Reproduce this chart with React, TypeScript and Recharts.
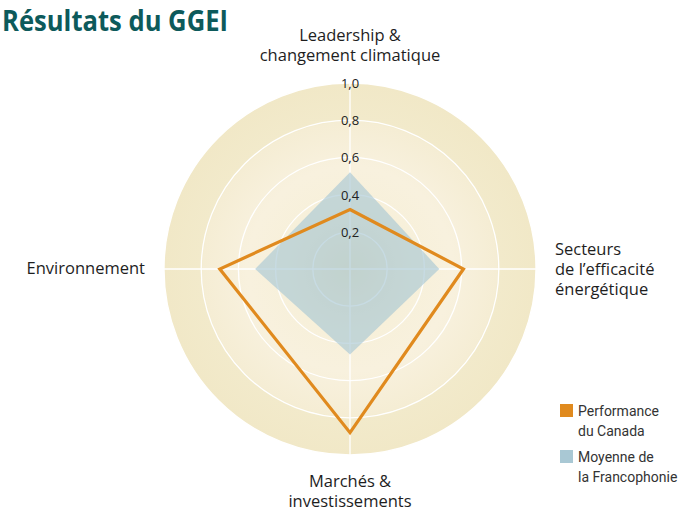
import React from 'react';
import { RadarChart, Radar, PolarGrid, PolarAngleAxis, PolarRadiusAxis, Legend } from 'recharts';

const categories = [
  'Leadership & changement climatique',
  'Secteurs de l’efficacité énergétique',
  'Marchés & investissements',
  'Environnement',
];
const canadaValues = [0.32, 0.61, 0.88, 0.7];
const francophonieValues = [0.52, 0.48, 0.46, 0.51];
const radiusTickValues = [0, 0.2, 0.4, 0.6, 0.8, 1.0];
const seriesNames = ['Performance du Canada', 'Moyenne de la Francophonie'];
const legendLines = [
  ['Performance', 'du Canada'],
  ['Moyenne de', 'la Francophonie'],
];
const categoryLines = [
  ['Leadership &', 'changement climatique'],
  ['Secteurs', 'de l’efficacité', 'énergétique'],
  ['Marchés &', 'investissements'],
  ['Environnement'],
];

const data = categories.map((c, i) => ({
  category: c,
  canada: canadaValues[i],
  francophonie: francophonieValues[i],
}));

const W = 700;
const H = 516;
const CX = 350;
const CY = 269;
const R = 186;
const ORANGE = '#e08a1e';
const BLUE = '#a9c8d4';
const LABEL_FONT = '"Open Sans", sans-serif';
const FS = 16.5;

// align: text alignment; dx: horizontal offset from tick point; base: first baseline offset; lh: line height
const tickLayout = [
  { align: 'center', dx: 0, base: -34, lh: 20 },
  { align: 'left', dx: 11, base: -14, lh: 20 },
  { align: 'center', dx: 0, base: 24, lh: 20 },
  { align: 'right', dx: -11, base: 5, lh: 20 },
];

const AngleTick = (props: any) => {
  const { x, y, index } = props;
  const lay = tickLayout[index] || tickLayout[0];
  const lines = categoryLines[index] || [String(props.payload?.value)];
  const boxW = 240;
  const top = y + lay.base - (lay.lh - 1.362 * FS) / 2 - 1.069 * FS;
  const ax = x + lay.dx;
  const left = lay.align === 'center' ? ax - boxW / 2 : lay.align === 'left' ? ax : ax - boxW;
  const boxH = lay.lh * lines.length + 4;
  return (
    <foreignObject x={left} y={top} width={boxW} height={boxH} style={{ overflow: 'visible' }}>
      <div
        style={{
          fontFamily: LABEL_FONT,
          fontSize: FS,
          lineHeight: `${lay.lh}px`,
          color: '#1e1e1e',
          textAlign: lay.align as any,
          whiteSpace: 'nowrap',
          margin: 0,
          padding: 0,
        }}
      >
        {lines.map((l, i) => (
          <React.Fragment key={i}>
            {i > 0 && <br />}
            {l}
          </React.Fragment>
        ))}
      </div>
    </foreignObject>
  );
};

const RadiusTick = (props: any) => {
  const { x, y, payload } = props;
  if (!payload || payload.value === 0) return <g />;
  return (
    <text
      x={x}
      y={y}
      textAnchor="middle"
      dominantBaseline="central"
      fontFamily={LABEL_FONT}
      fontSize={13}
      fill="#222"
    >
      {Number(payload.value).toFixed(1).replace('.', ',')}
    </text>
  );
};

const LegendContent = () => (
  <div style={{ fontFamily: 'Roboto, sans-serif', fontSize: 14, color: '#333' }}>
    {seriesNames.map((n, i) => (
      <div key={n} style={{ display: 'flex', alignItems: 'flex-start', marginBottom: i === 0 ? 6 : 0 }}>
        <div
          style={{
            width: 13,
            height: 13,
            background: i === 0 ? ORANGE : BLUE,
            marginTop: 3,
            marginRight: 5,
            flex: 'none',
          }}
        />
        <div style={{ lineHeight: '20px' }}>
          {legendLines[i].map((l, j) => (
            <React.Fragment key={l}>
              {j > 0 && <br />}
              {l}
            </React.Fragment>
          ))}
        </div>
      </div>
    ))}
  </div>
);

export default function App() {
  return (
    <div style={{ position: 'relative', width: W, height: H, background: '#fff' }}>
      <style>{'body{margin:0;}'}</style>
      <svg width={W} height={H} style={{ position: 'absolute', left: 0, top: 0 }}>
        <defs>
          <radialGradient id="bg" cx={CX} cy={CY} r={R} gradientUnits="userSpaceOnUse">
            <stop offset="0" stopColor="#efe5c2" />
            <stop offset="0.35" stopColor="#f7f0da" />
            <stop offset="0.55" stopColor="#f8f1de" />
            <stop offset="0.79" stopColor="#f5edd4" />
            <stop offset="0.8" stopColor="#f2eacb" />
            <stop offset="1" stopColor="#f1e8c7" />
          </radialGradient>
        </defs>
        <circle cx={CX} cy={CY} r={R} fill="url(#bg)" />
        <text
          x={2}
          y={31}
          fontFamily={LABEL_FONT}
          fontWeight={700}
          fontSize={28}
          fill="#0d5a5b"
          textLength={226}
          lengthAdjust="spacingAndGlyphs"
        >
          Résultats du GGEI
        </text>
      </svg>
      <RadarChart
        width={W}
        height={H}
        data={data}
        cx={CX}
        cy={CY}
        outerRadius={R}
        startAngle={90}
        endAngle={-270}
        margin={{ top: 0, right: 0, bottom: 0, left: 0 }}
      >
        <PolarGrid gridType="circle" stroke="#ffffff" strokeWidth={1.3} />
        <PolarAngleAxis dataKey="category" tick={<AngleTick />} tickLine={false} tickSize={8} axisLine={false} />
        <PolarRadiusAxis
          angle={90}
          domain={[0, 1]}
          ticks={radiusTickValues as any}
          tickCount={6}
          tick={<RadiusTick />}
          axisLine={false}
          tickLine={false}
        />
        <Radar
          name={seriesNames[1]}
          dataKey="francophonie"
          fill={BLUE}
          fillOpacity={0.65}
          stroke="none"
          isAnimationActive={false}
        />
        <Radar
          name={seriesNames[0]}
          dataKey="canada"
          fill="none"
          fillOpacity={0}
          stroke={ORANGE}
          strokeWidth={3.2}
          strokeLinejoin="miter"
          isAnimationActive={false}
        />
        <Legend
          content={<LegendContent />}
          wrapperStyle={{ position: 'absolute', left: 560, top: 401, width: 140, bottom: 'auto' }}
        />
      </RadarChart>
    </div>
  );
}
